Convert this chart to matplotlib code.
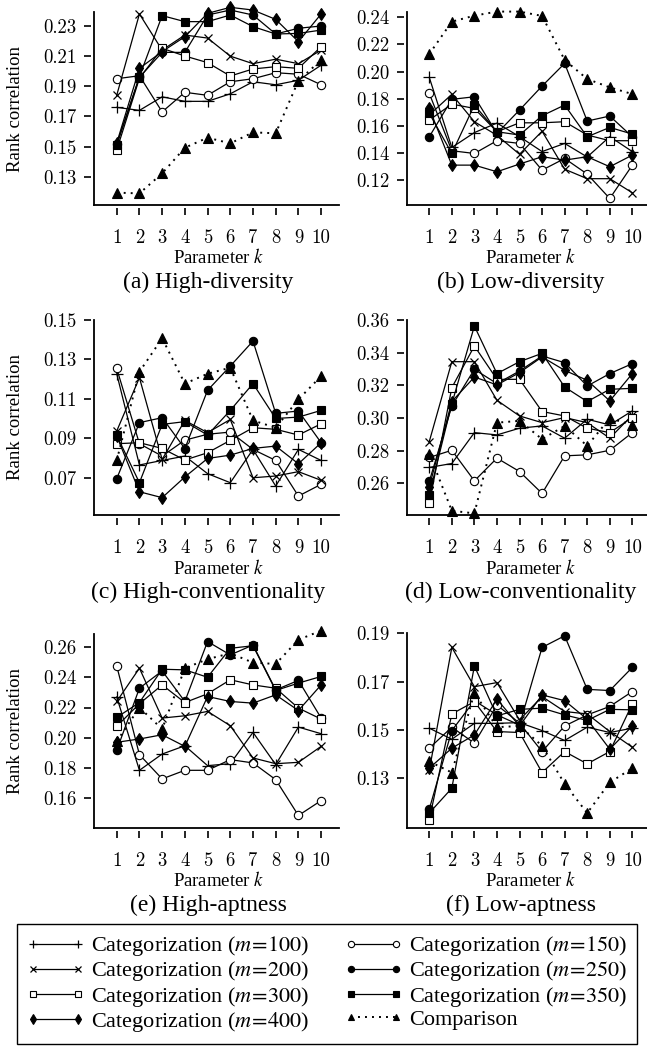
import matplotlib
matplotlib.use("Agg")
import matplotlib.pyplot as plt
from matplotlib.path import Path
from matplotlib.ticker import FormatStrFormatter

plt.rcParams['font.family'] = ['Liberation Serif', 'DejaVu Serif']
plt.rcParams['mathtext.fontset'] = 'stix'

# ---------------- data ----------------
k_values = [1, 2, 3, 4, 5, 6, 7, 8, 9, 10]

series_labels = ["Categorization ($m\\!=\\!100$)", "Categorization ($m\\!=\\!150$)",
                 "Categorization ($m\\!=\\!200$)", "Categorization ($m\\!=\\!250$)",
                 "Categorization ($m\\!=\\!300$)", "Categorization ($m\\!=\\!350$)",
                 "Categorization ($m\\!=\\!400$)", "Comparison"]

panel_titles = ["(a) High-diversity", "(b) Low-diversity", "(c) High-conventionality",
                "(d) Low-conventionality", "(e) High-aptness", "(f) Low-aptness"]

# (a) High-diversity
a_m100 = [0.176, 0.174, 0.183, 0.180, 0.180, 0.185, 0.193, 0.191, 0.194, 0.204]
a_m150 = [0.195, 0.197, 0.173, 0.186, 0.184, 0.193, 0.195, 0.199, 0.198, 0.191]
a_m200 = [0.184, 0.238, 0.214, 0.224, 0.222, 0.210, 0.205, 0.208, 0.205, 0.214]
a_m250 = [0.1515, 0.196, 0.2125, 0.2125, 0.2373, 0.2406, 0.2373, 0.2247, 0.2285, 0.230]
a_m300 = [0.1477, 0.1953, 0.2152, 0.2101, 0.2057, 0.1968, 0.2015, 0.203, 0.2019, 0.2163]
a_m350 = [0.151, 0.1964, 0.2369, 0.2329, 0.2329, 0.2373, 0.2296, 0.2247, 0.2251, 0.2273]
a_m400 = [0.1523, 0.2019, 0.213, 0.2229, 0.2384, 0.2424, 0.2406, 0.2344, 0.2196, 0.238]
a_comp = [0.1194, 0.1189, 0.1322, 0.1492, 0.1559, 0.1521, 0.1594, 0.1588, 0.1937, 0.2074]

# (b) Low-diversity
b_m100 = [0.1957, 0.144, 0.155, 0.162, 0.152, 0.141, 0.147, 0.137, 0.152, 0.141]
b_m150 = [0.1839, 0.1416, 0.1396, 0.149, 0.147, 0.1273, 0.1359, 0.1244, 0.1064, 0.131]
b_m200 = [0.168, 0.1832, 0.163, 0.153, 0.139, 0.156, 0.128, 0.121, 0.121, 0.1106]
b_m250 = [0.1519, 0.1795, 0.1814, 0.1544, 0.1716, 0.1893, 0.206, 0.1635, 0.1672, 0.1519]
b_m300 = [0.1642, 0.176, 0.1728, 0.1556, 0.1622, 0.1622, 0.163, 0.1532, 0.149, 0.149]
b_m350 = [0.1692, 0.1396, 0.1753, 0.1556, 0.1532, 0.1674, 0.1753, 0.1519, 0.1588, 0.1539]
b_m400 = [0.1728, 0.131, 0.131, 0.1261, 0.1318, 0.1372, 0.1347, 0.1372, 0.1298, 0.1384]
b_comp = [0.2129, 0.2368, 0.2412, 0.2442, 0.2442, 0.241, 0.2085, 0.1945, 0.1883, 0.1834]

# (c) High-conventionality
c_m100 = [0.1227, 0.0764, 0.0787, 0.0809, 0.072, 0.0674, 0.0843, 0.0657, 0.0843, 0.0787]
c_m150 = [0.1254, 0.0872, 0.0809, 0.089, 0.092, 0.0931, 0.0843, 0.0787, 0.0606, 0.0666]
c_m200 = [0.0936, 0.1207, 0.0792, 0.099, 0.0928, 0.0995, 0.0699, 0.0708, 0.073, 0.0686]
c_m250 = [0.0694, 0.0979, 0.1004, 0.0847, 0.1143, 0.1266, 0.1393, 0.1026, 0.1038, 0.0877]
c_m300 = [0.0872, 0.0877, 0.0848, 0.0789, 0.0826, 0.0889, 0.0953, 0.0945, 0.0916, 0.0973]
c_m350 = [0.0914, 0.0674, 0.097, 0.0984, 0.0916, 0.1041, 0.1177, 0.1, 0.1007, 0.1041]
c_m400 = [0.0911, 0.0628, 0.0598, 0.0703, 0.0797, 0.0814, 0.0848, 0.086, 0.077, 0.0877]
c_comp = [0.0787, 0.1237, 0.1407, 0.1177, 0.1227, 0.1258, 0.099, 0.0953, 0.1097, 0.1215]

# (d) Low-conventionality
d_m100 = [0.2698, 0.2722, 0.2911, 0.2897, 0.2938, 0.2952, 0.2877, 0.2993, 0.2958, 0.3044]
d_m150 = [0.2759, 0.2803, 0.2616, 0.2755, 0.2673, 0.2539, 0.2769, 0.2775, 0.2803, 0.2911]
d_m200 = [0.2856, 0.3345, 0.3345, 0.3109, 0.3013, 0.2972, 0.3003, 0.2972, 0.2877, 0.3019]
d_m250 = [0.2612, 0.3074, 0.3298, 0.3211, 0.3288, 0.338, 0.3339, 0.3196, 0.3272, 0.3333]
d_m300 = [0.2478, 0.3186, 0.3441, 0.3237, 0.3237, 0.304, 0.3013, 0.2938, 0.2911, 0.3003]
d_m350 = [0.2531, 0.3088, 0.3563, 0.3272, 0.3345, 0.3396, 0.319, 0.3101, 0.3176, 0.3182]
d_m400 = [0.2579, 0.3101, 0.3251, 0.3203, 0.3278, 0.3374, 0.3292, 0.3231, 0.3105, 0.3272]
d_comp = [0.2783, 0.2433, 0.2417, 0.2972, 0.2983, 0.2871, 0.2952, 0.283, 0.2999, 0.2958]

# (e) High-aptness
e_m100 = [0.227, 0.1783, 0.1891, 0.1946, 0.1814, 0.1827, 0.2035, 0.1821, 0.207, 0.2026]
e_m150 = [0.2476, 0.1887, 0.1726, 0.1783, 0.1783, 0.1854, 0.1832, 0.1721, 0.1483, 0.1582]
e_m200 = [0.224, 0.2461, 0.213, 0.2145, 0.2174, 0.2079, 0.1865, 0.1827, 0.1836, 0.1942]
e_m250 = [0.1916, 0.2328, 0.2443, 0.224, 0.2638, 0.2549, 0.2615, 0.2317, 0.238, 0.213]
e_m300 = [0.2075, 0.2225, 0.235, 0.2233, 0.2291, 0.2384, 0.235, 0.2328, 0.2196, 0.2123]
e_m350 = [0.2134, 0.2233, 0.2454, 0.245, 0.2401, 0.2593, 0.261, 0.2313, 0.2362, 0.2406]
e_m400 = [0.1969, 0.1991, 0.2019, 0.1942, 0.2273, 0.224, 0.2229, 0.2284, 0.218, 0.235]
e_comp = [0.1975, 0.220, 0.2057, 0.2461, 0.2521, 0.256, 0.2498, 0.2489, 0.265, 0.271]

# (f) Low-aptness
f_m100 = [0.1507, 0.1461, 0.1527, 0.1527, 0.153, 0.1497, 0.1456, 0.1511, 0.1489, 0.1507]
f_m150 = [0.1424, 0.1511, 0.1445, 0.1603, 0.1528, 0.141, 0.1516, 0.1562, 0.1597, 0.1659]
f_m200 = [0.1332, 0.1842, 0.1679, 0.1696, 0.1541, 0.1638, 0.1576, 0.1566, 0.1493, 0.1428]
f_m250 = [0.1171, 0.1497, 0.1621, 0.1562, 0.152, 0.1842, 0.189, 0.1668, 0.1663, 0.1759]
f_m300 = [0.1127, 0.1566, 0.1617, 0.1493, 0.1489, 0.1323, 0.141, 0.1359, 0.141, 0.1608]
f_m350 = [0.1155, 0.1258, 0.1765, 0.1558, 0.1585, 0.159, 0.1562, 0.1539, 0.1585, 0.1583]
f_m400 = [0.1341, 0.1424, 0.1479, 0.1627, 0.1516, 0.1645, 0.1621, 0.1544, 0.142, 0.1516]
f_comp = [0.1369, 0.1323, 0.1654, 0.1511, 0.1516, 0.1434, 0.1276, 0.1155, 0.1282, 0.1341]

# y tick labels per panel
a_yticks = [0.13, 0.15, 0.17, 0.19, 0.21, 0.23]
b_yticks = [0.12, 0.14, 0.16, 0.18, 0.20, 0.22, 0.24]
c_yticks = [0.07, 0.09, 0.11, 0.13, 0.15]
d_yticks = [0.26, 0.28, 0.30, 0.32, 0.34, 0.36]
e_yticks = [0.16, 0.18, 0.20, 0.22, 0.24, 0.26]
f_yticks = [0.13, 0.15, 0.17, 0.19]

panels_data = [
    [a_m100, a_m150, a_m200, a_m250, a_m300, a_m350, a_m400, a_comp],
    [b_m100, b_m150, b_m200, b_m250, b_m300, b_m350, b_m400, b_comp],
    [c_m100, c_m150, c_m200, c_m250, c_m300, c_m350, c_m400, c_comp],
    [d_m100, d_m150, d_m200, d_m250, d_m300, d_m350, d_m400, d_comp],
    [e_m100, e_m150, e_m200, e_m250, e_m300, e_m350, e_m400, e_comp],
    [f_m100, f_m150, f_m200, f_m250, f_m300, f_m350, f_m400, f_comp],
]
panels_yticks = [a_yticks, b_yticks, c_yticks, d_yticks, e_yticks, f_yticks]

# ---------------- layout (pixels) ----------------
W, H = 647, 1052
# left, right, top, bottom in px ; xlim, ylim
layout = [
    (94.0, 339.3, 12.0, 205.0, (0, 10.8), (0.1112, 0.2393)),
    (406.7, 647.0, 12.0, 205.0, (0, 10.65), (0.1016, 0.2439)),
    (94.0, 339.3, 320.0, 515.0, (0, 10.8), (0.051, 0.150)),
    (406.7, 647.0, 320.0, 515.0, (0, 10.65), (0.2407, 0.360)),
    (94.0, 339.3, 634.0, 828.0, (0, 10.8), (0.140, 0.2688)),
    (406.7, 647.0, 633.4, 828.0, (0, 10.65), (0.1093, 0.190)),
]

styles = [
    dict(marker='+', ms=8.5, mew=0.9, mfc='black'),
    dict(marker='o', ms=6.0, mew=0.8, mfc='white'),
    dict(marker='x', ms=6.0, mew=0.9, mfc='black'),
    dict(marker='o', ms=6.0, mew=0.8, mfc='black'),
    dict(marker='s', ms=5.5, mew=0.8, mfc='white'),
    dict(marker='s', ms=5.5, mew=0.8, mfc='black'),
    dict(marker='d', ms=6.5, mew=0.8, mfc='black'),
    dict(marker='^', ms=6.5, mew=0.8, mfc='black'),
]

fig = plt.figure(figsize=(W / 100, H / 100), dpi=100)

TICK_LEN = 7.0  # points (gap + tick)
xpath = Path([[0, -0.32], [0, -1.0]])
ypath = Path([[-0.32, 0], [-1.0, 0]])

axes = []
for i, (l, r, t, b, xl, yl) in enumerate(layout):
    ax = fig.add_axes([l / W, 1 - b / H, (r - l) / W, (b - t) / H])
    axes.append(ax)
    for j, ys in enumerate(panels_data[i]):
        st = styles[j]
        ls = (0, (1.0, 2.6)) if j == 7 else '-'
        lw = 1.4 if j == 7 else 0.9
        ax.plot(k_values, ys, color='black', linestyle=ls, linewidth=lw,
                marker=st['marker'], markersize=st['ms'], markeredgewidth=st['mew'],
                markerfacecolor=st['mfc'], markeredgecolor='black',
                clip_on=False, label=series_labels[j], zorder=3)
    ax.set_xlim(*xl)
    ax.set_ylim(*yl)
    ax.set_xticks(k_values)
    ax.set_yticks(panels_yticks[i])
    ax.yaxis.set_major_formatter(FormatStrFormatter('%.2f'))
    for s in ['top', 'right']:
        ax.spines[s].set_visible(False)
    for s in ['left', 'bottom']:
        ax.spines[s].set_linewidth(1.3)
    ax.tick_params(direction='out', length=2 * TICK_LEN, width=1.2,
                   labelsize=13.5, labelfontfamily='cmr10')
    ax.tick_params(axis='x', pad=3)
    ax.tick_params(axis='y', pad=-1.5)
    for tk in ax.xaxis.get_major_ticks():
        tk.tick1line.set_marker(xpath)
    for tk in ax.yaxis.get_major_ticks():
        tk.tick1line.set_marker(ypath)

    # x label and caption
    xc = l + (5.5 - xl[0]) / (xl[1] - xl[0]) * (r - l)
    fig.text(xc / W, 1 - (b + 53) / H, 'Parameter $k$', ha='center', va='center', fontsize=13.5)
    capx = 208 if i % 2 == 0 else 521
    fig.text(capx / W, 1 - (b + 77) / H, panel_titles[i], ha='center', va='center', fontsize=17)
    if i % 2 == 0:
        fig.text(16 / W, 1 - (t + b) / 2 / H, 'Rank correlation', rotation=90,
                 ha='center', va='center', fontsize=13.5)

# legend
handles, labels = axes[0].get_legend_handles_labels()
order = [0, 2, 4, 6, 1, 3, 5, 7]
leg = fig.legend([handles[o] for o in order], [labels[o] for o in order],
                 ncol=2, loc='center', bbox_to_anchor=(327 / W, 1 - 984 / H),
                 fontsize=16, frameon=True, fancybox=False, framealpha=1,
                 edgecolor='black', borderpad=0.45, labelspacing=0.05,
                 handlelength=2.6, handletextpad=0.3, columnspacing=1.6,
                 numpoints=2, markerscale=0.75, borderaxespad=0)
leg.get_frame().set_linewidth(1.0)

fig.savefig('out.png', dpi=100)
